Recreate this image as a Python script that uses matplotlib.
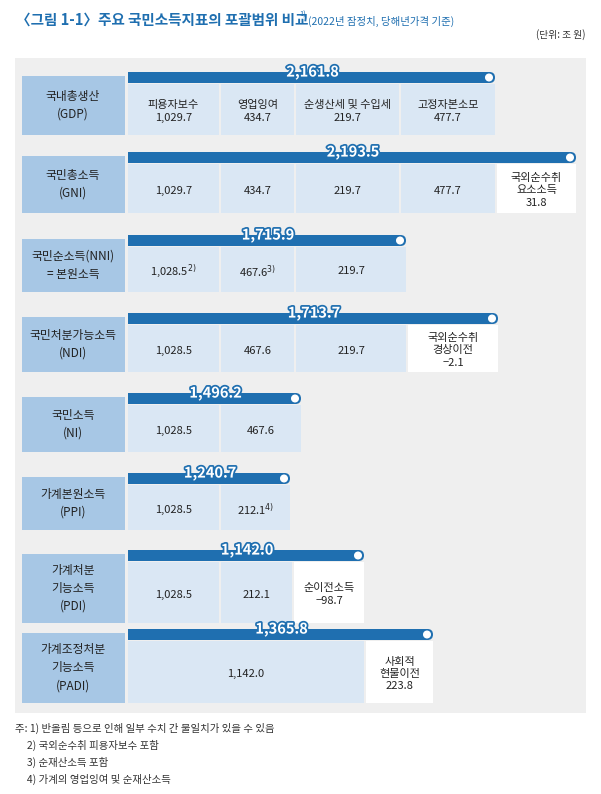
import matplotlib.pyplot as plt
import matplotlib.patheffects as pe
from matplotlib.patches import Rectangle, FancyBboxPatch, Circle

plt.rcParams['font.family'] = ['Noto Sans CJK KR', 'DejaVu Sans']

# data
indicators = ["국내총생산\n(GDP)", "국민총소득\n(GNI)", "국민순소득(NNI)\n= 본원소득", "국민처분가능소득\n(NDI)",
              "국민소득\n(NI)", "가계본원소득\n(PPI)", "가계처분\n기능소득\n(PDI)", "가계조정처분\n기능소득\n(PADI)"]
totals = ["2,161.8", "2,193.5", "1,715.9", "1,713.7", "1,496.2", "1,240.7", "1,142.0", "1,365.8"]
cells = [
    ["피용자보수\n1,029.7", "영업잉여\n434.7", "순생산세 및 수입세\n219.7", "고정자본소모\n477.7"],
    ["1,029.7", "434.7", "219.7", "477.7", "국외순수취\n요소소득\n31.8"],
    ["1,028.5$^{2)}$", "467.6$^{3)}$", "219.7"],
    ["1,028.5", "467.6", "219.7", "국외순수취\n경상이전\n−2.1"],
    ["1,028.5", "467.6"],
    ["1,028.5", "212.1$^{4)}$"],
    ["1,028.5", "212.1", "순이전소득\n−98.7"],
    ["1,142.0", "사회적\n현물이전\n223.8"],
]
white_last = [False, True, False, True, False, False, True, True]
notes = ["주: 1) 반올림 등으로 인해 일부 수치 간 불일치가 있을 수 있음",
         "     2) 국외순수취 피용자보수 포함",
         "     3) 순재산소득 포함",
         "     4) 가계의 영업잉여 및 순재산소득"]

# layout (pixels)
edges = [[128, 221, 296, 401, 497],
         [128, 221, 296, 401, 497, 578],
         [128, 221, 296, 408],
         [128, 221, 296, 408, 500],
         [128, 221, 303],
         [128, 221, 292],
         [128, 221, 294, 366],
         [128, 366, 435]]
bar_top = [72, 152, 235, 313, 393, 473, 550, 629]
row_bot = [135, 213, 292, 372, 452, 530, 623, 703]

fig = plt.figure(figsize=(6.01, 7.94), dpi=100)
ax = fig.add_axes([0, 0, 1, 1])
ax.set_xlim(0, 601)
ax.set_ylim(794, 0)
ax.axis('off')

ax.text(16, 20, "〈그림 1-1〉주요 국민소득지표의 포괄범위 비교", fontsize=10.5, fontweight='bold',
        color='#1f6fb0', va='center')
ax.text(299, 15, "1)", fontsize=5.5, color='#1f6fb0', va='center')
ax.text(308, 21, "(2022년 잠정치, 당해년가격 기준)", fontsize=7.5, color='#1f6fb0', va='center')
ax.text(585, 35, "(단위: 조 원)", fontsize=7, ha='right', va='center', color='#333')

ax.add_patch(Rectangle((15, 58), 571, 655, color='#efefef', lw=0))

for i in range(len(indicators)):
    bt, rb, ed = bar_top[i], row_bot[i], edges[i]
    ct = bt + 12
    ax.add_patch(Rectangle((22, bt + 4), 103, rb - bt - 4, color='#a7c7e5', lw=0))
    ax.text(73, (bt + 4 + rb) / 2, indicators[i], ha='center', va='center', fontsize=8.5,
            linespacing=1.5, color='#222')
    right = ed[-1]
    ax.add_patch(FancyBboxPatch((ed[0], bt), right - ed[0] - 2, 11,
                                boxstyle="round,pad=0,rounding_size=5.5", color='#1f6fb0', lw=0))
    ax.add_patch(Rectangle((ed[0], bt), 20, 11, color='#1f6fb0', lw=0))
    ax.add_patch(Circle((right - 8, bt + 5.5), 3.3, color='white'))
    ax.text((ed[0] + right) / 2, bt, totals[i], ha='center', va='center', fontsize=10.5,
            fontweight='bold', color='white',
            path_effects=[pe.withStroke(linewidth=2.5, foreground='#1f6fb0')])
    for j, lab in enumerate(cells[i]):
        x0, x1 = ed[j], ed[j + 1] - 2
        white = white_last[i] and j == len(cells[i]) - 1
        ax.add_patch(Rectangle((x0, ct), x1 - x0, rb - ct,
                               color='white' if white else '#dae7f4', lw=0))
        ax.text((x0 + x1) / 2, (ct + rb) / 2 + 2, lab, ha='center', va='center',
                fontsize=8, linespacing=1.3, color='#222')

for k, n in enumerate(notes):
    ax.text(15, 728 + k * 17, n, fontsize=7.5, va='center', color='#333')

fig.savefig("out.png", dpi=100)
